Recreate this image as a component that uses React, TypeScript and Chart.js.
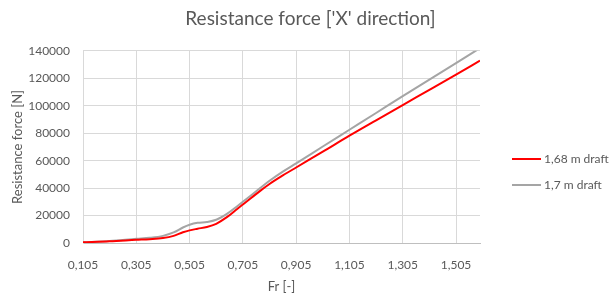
import React, { useEffect, useRef } from "react";
import { Chart, registerables } from "chart.js";

Chart.register(...registerables);

const frValues = [0.105, 0.205, 0.305, 0.355, 0.405, 0.445, 0.48, 0.505, 0.535, 0.57, 0.605, 0.645, 0.685, 0.705, 0.77, 0.805, 0.855, 0.905, 1.005, 1.105, 1.205, 1.305, 1.405, 1.505, 1.595];
const draft168 = [500, 1200, 2300, 2800, 3600, 5200, 7800, 9200, 10400, 11700, 14000, 18800, 25000, 28000, 38000, 43000, 49200, 55000, 66500, 78200, 89400, 100500, 111500, 122600, 132800];
const draft170 = [500, 1500, 3100, 3800, 5200, 7700, 11300, 13300, 14700, 15300, 16900, 21200, 27000, 30000, 40000, 45300, 52000, 58000, 70300, 82500, 94700, 107000, 119000, 131000, 142000];
const xTicks = [0.105, 0.305, 0.505, 0.705, 0.905, 1.105, 1.305, 1.505];
const seriesNames = ["1,68 m draft", "1,7 m draft"];
const seriesColors = ["#ff0000", "#a5a5a5"];

const FONT = "Lato, 'Open Sans', sans-serif";
const TEXT = "#595959";

const sideLegend = {
  id: "sideLegend",
  afterDraw(chart: any) {
    const { ctx, chartArea } = chart;
    const mid = (chartArea.top + chartArea.bottom) / 2;
    ctx.save();
    ctx.font = `12px ${FONT}`;
    ctx.fillStyle = TEXT;
    ctx.textBaseline = "middle";
    ctx.textAlign = "left";
    chart.data.datasets.forEach((ds: any, i: number) => {
      const y = Math.round(mid + 12 + i * 26);
      const x0 = chartArea.right + 32;
      ctx.strokeStyle = ds.borderColor;
      ctx.lineWidth = 2;
      ctx.beginPath();
      ctx.moveTo(x0, y);
      ctx.lineTo(x0 + 29, y);
      ctx.stroke();
      ctx.fillText(ds.label, x0 + 32, y);
    });
    ctx.restore();
  },
};

export default function App() {
  const ref = useRef<HTMLCanvasElement | null>(null);
  useEffect(() => {
    document.body.style.margin = "0";
    const chart = new Chart(ref.current!, {
      type: "line",
      data: {
        datasets: [
          {
            label: seriesNames[0],
            data: frValues.map((x, i) => ({ x, y: draft168[i] })),
            borderColor: seriesColors[0],
            backgroundColor: seriesColors[0],
            borderWidth: 2,
            pointRadius: 0,
            cubicInterpolationMode: "monotone",
          },
          {
            label: seriesNames[1],
            data: frValues.map((x, i) => ({ x, y: draft170[i] })),
            borderColor: seriesColors[1],
            backgroundColor: seriesColors[1],
            borderWidth: 2,
            pointRadius: 0,
            cubicInterpolationMode: "monotone",
          },
        ],
      },
      plugins: [sideLegend],
      options: {
        animation: false,
        responsive: true,
        maintainAspectRatio: false,
        layout: { padding: { left: 10, right: 0, top: 4, bottom: 0 } },
        plugins: {
          title: {
            display: true,
            text: "Resistance force ['X' direction]",
            color: TEXT,
            font: { family: FONT, size: 19, weight: "normal" },
            padding: { top: 3, bottom: 21 },
          },
          legend: { display: false },
          tooltip: { enabled: false },
        },
        scales: {
          x: {
            type: "linear",
            min: 0.105,
            max: 1.595,
            afterBuildTicks: (axis: any) => {
              axis.ticks = xTicks.map((v) => ({ value: v }));
            },
            afterFit: (scale: any) => {
              scale.height = 52;
            },
            ticks: {
              color: TEXT,
              font: { family: FONT, size: 12 },
              padding: 15,
              maxRotation: 0,
              callback: (v: any) => Number(v).toFixed(3).replace(".", ","),
            },
            grid: { color: "#d9d9d9", drawTicks: false },
            border: { color: "#bfbfbf" },
            title: {
              display: true,
              text: "Fr [-]",
              color: TEXT,
              font: { family: FONT, size: 13 },
              padding: { top: 0, bottom: 0 },
            },
          },
          y: {
            min: 0,
            max: 140000,
            afterFit: (scale: any) => {
              scale.width = 73;
            },
            ticks: {
              stepSize: 20000,
              color: TEXT,
              font: { family: FONT, size: 12 },
              padding: 13,
              callback: (v: any) => String(v),
            },
            grid: { color: "#d9d9d9", drawTicks: false },
            border: { color: "#d9d9d9" },
            title: {
              display: true,
              text: "Resistance force [N]",
              color: TEXT,
              font: { family: FONT, size: 13 },
              padding: { top: 0, bottom: 0 },
            },
          },
          legendSpace: {
            type: "linear",
            position: "right",
            display: true,
            min: 0,
            max: 1,
            afterFit: (scale: any) => {
              scale.width = 131;
            },
            ticks: { display: false },
            grid: { display: false },
            border: { display: false },
          },
        },
      },
    });
    return () => chart.destroy();
  }, []);
  return (
    <div style={{ position: "fixed", left: 0, top: 0, width: 611, height: 295 }}>
      <canvas ref={ref} />
    </div>
  );
}
